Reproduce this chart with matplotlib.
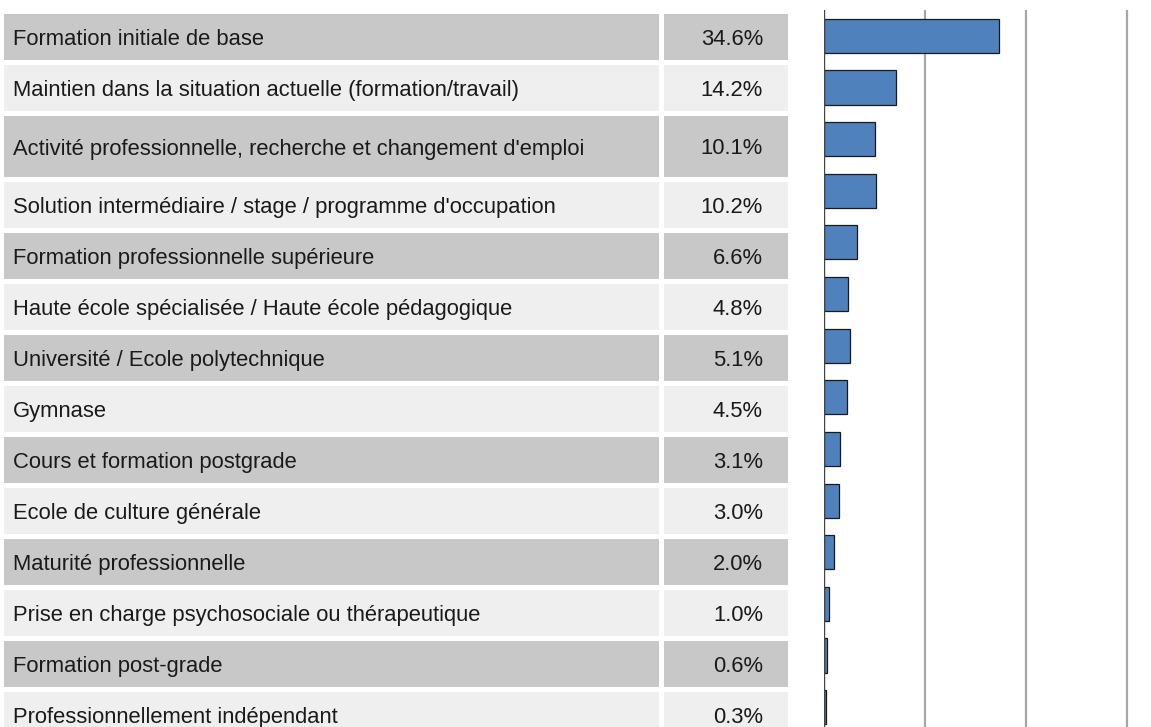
import matplotlib.pyplot as plt
from matplotlib.patches import Rectangle

plt.rcParams['font.family'] = ['Liberation Sans', 'DejaVu Sans']

categories = [
    "Formation initiale de base",
    "Maintien dans la situation actuelle (formation/travail)",
    "Activité professionnelle, recherche et changement d'emploi",
    "Solution intermédiaire / stage / programme d'occupation",
    "Formation professionnelle supérieure",
    "Haute école spécialisée / Haute école pédagogique",
    "Université / Ecole polytechnique",
    "Gymnase",
    "Cours et formation postgrade",
    "Ecole de culture générale",
    "Maturité professionnelle",
    "Prise en charge psychosociale ou thérapeutique",
    "Formation post-grade",
    "Professionnellement indépendant",
]
values = [34.6, 14.2, 10.1, 10.2, 6.6, 4.8, 5.1, 4.5, 3.1, 3.0, 2.0, 1.0, 0.6, 0.3]
value_labels = [f"{v:.1f}%" for v in values]

W, H = 1151, 727
fig = plt.figure(figsize=(W / 100, H / 100), dpi=100)

# table part, in pixel coordinates
tab = fig.add_axes([0, 0, 1, 1])
tab.set_xlim(0, W)
tab.set_ylim(H, 0)
tab.axis('off')

dark, light = '#c8c8c8', '#efefef'
row_h = [46, 46, 61] + [46] * 11
gap = 5
fs = 15.8
y = 14
for i, (cat, lab) in enumerate(zip(categories, value_labels)):
    h = row_h[i]
    col = dark if i % 2 == 0 else light
    tab.add_patch(Rectangle((4, y), 655, h, facecolor=col, edgecolor='none'))
    tab.add_patch(Rectangle((664, y), 124, h, facecolor=col, edgecolor='none'))
    tab.text(13, y + h / 2, cat, ha='left', va='center_baseline', fontsize=fs, color='#1a1a1a')
    tab.text(763, y + h / 2, lab, ha='right', va='center_baseline', fontsize=fs, color='#1a1a1a')
    y += h + gap

# bar part
x0, xr = 824, W
top, bot = 10, 733
ax = fig.add_axes([x0 / W, 1 - bot / H, (xr - x0) / W, (bot - top) / H])
ax.set_xlim(0, (xr - x0) / 101 * 20)
ax.set_ylim(len(values) - 0.5, -0.5)
for g in [20, 40, 60]:
    ax.axvline(g, color='#a6a6a6', lw=1.6, zorder=0)
ax.barh(range(len(values)), values, height=0.66, color='#4f81bd',
        edgecolor='#1a1a1a', linewidth=0.9, zorder=2)
ax.axvline(0, color='#444444', lw=1.0, zorder=3)
for s in ax.spines.values():
    s.set_visible(False)
ax.set_xticks([])
ax.set_yticks([])
ax.patch.set_alpha(0)

fig.savefig('out.png', dpi=100)
